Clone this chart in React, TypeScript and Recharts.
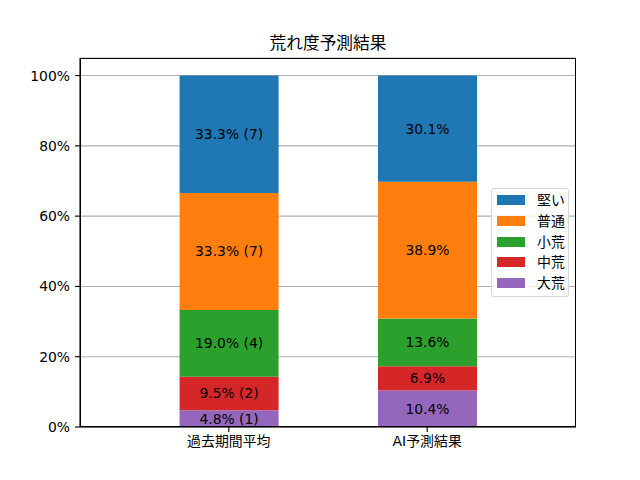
import React from 'react';
import { BarChart, Bar, XAxis, YAxis, CartesianGrid, LabelList, Legend } from 'recharts';

const categories = ['過去期間平均', 'AI予測結果'];
const seriesNames = ['大荒', '中荒', '小荒', '普通', '堅い'];
const seriesColors = ['#9467bd', '#d62728', '#2ca02c', '#ff7f0e', '#1f77b4'];
const oare = [4.8, 10.4];
const chuare = [9.5, 6.9];
const shoare = [19.0, 13.6];
const futsu = [33.3, 38.9];
const katai = [33.4, 30.2];
const pastCounts = [1, 2, 4, 7, 7];
const yTicks = [0, 20, 40, 60, 80, 100];

const seriesValues = [oare, chuare, shoare, futsu, katai];
const seriesLabels = [
  ['4.8% (1)', '10.4%'],
  ['9.5% (2)', '6.9%'],
  ['19.0% (4)', '13.6%'],
  ['33.3% (7)', '38.9%'],
  ['33.3% (7)', '30.1%'],
];

const data = categories.map((name, i) => {
  const row: Record<string, any> = { x: i, name };
  seriesNames.forEach((s, k) => {
    row['s' + k] = seriesValues[k][i];
    row['l' + k] = seriesLabels[k][i];
  });
  return row;
});

const FONT = '"DejaVu Sans", "Noto Sans CJK JP", sans-serif';
const TICK_FS = 13.9;

const LegendBox = () => (
  <div
    style={{
      position: 'relative',
      width: 78,
      height: 109,
      border: '1px solid #d6d6d6',
      borderRadius: 3,
      boxSizing: 'border-box',
      background: 'rgba(255,255,255,0.8)',
      fontFamily: FONT,
      fontSize: TICK_FS,
      color: '#000',
    }}
  >
    {[...seriesNames].reverse().map((s, i) => {
      const color = [...seriesColors].reverse()[i];
      const cy = 11 + 20.8 * i;
      return (
        <div key={s} style={{ position: 'absolute', left: 0, top: cy - 10, height: 20, width: 78 }}>
          <div style={{ position: 'absolute', left: 5, top: 5, width: 28, height: 10, background: color }} />
          <div style={{ position: 'absolute', left: 45, top: 0, lineHeight: '20px', whiteSpace: 'nowrap' }}>{s}</div>
        </div>
      );
    })}
  </div>
);

export default function App() {
  return (
    <div style={{ position: 'absolute', left: 0, top: 0, width: 640, height: 480, background: '#fff' }}>
      <div
        style={{
          position: 'absolute',
          left: 80,
          width: 496,
          top: 35,
          textAlign: 'center',
          fontFamily: FONT,
          fontSize: 16.7,
          lineHeight: '17px',
          color: '#000',
        }}
      >
        荒れ度予測結果
      </div>
      <BarChart
        width={640}
        height={480}
        data={data}
        margin={{ top: 58, right: 64, bottom: 0, left: 0 }}
        style={{ fontFamily: FONT }}
      >
        <CartesianGrid vertical={false} stroke="#b0b0b0" strokeWidth={1.1} />
        <XAxis
          dataKey="x"
          type="number"
          domain={[-0.75, 1.75]}
          ticks={[0, 1]}
          allowDataOverflow
          tickFormatter={(v: number) => categories[v]}
          height={53}
          tickSize={5}
          tickMargin={4}
          axisLine={{ stroke: '#000', strokeWidth: 1.1 }}
          tickLine={{ stroke: '#000', strokeWidth: 1.1 }}
          tick={{ fill: '#000', fontSize: TICK_FS, fontFamily: FONT }}
        />
        <YAxis
          type="number"
          domain={[0, 105]}
          ticks={yTicks}
          allowDataOverflow
          tickFormatter={(v: number) => `${v}%`}
          width={80}
          tickSize={5}
          tickMargin={5}
          axisLine={{ stroke: '#000', strokeWidth: 1.1 }}
          tickLine={{ stroke: '#000', strokeWidth: 1.1 }}
          tick={{ fill: '#000', fontSize: TICK_FS, fontFamily: FONT }}
        />
        <Legend
          layout="vertical"
          align="center"
          verticalAlign="middle"
          content={() => <LegendBox />}
          wrapperStyle={{ position: 'absolute', left: 491, top: 188, width: 78, height: 109 }}
        />
        {seriesNames.map((s, k) => (
          <Bar
            key={s}
            dataKey={'s' + k}
            name={s}
            stackId="a"
            fill={seriesColors[k]}
            barSize={99}
            isAnimationActive={false}
          >
            <LabelList dataKey={'l' + k} position="center" fill="#000" fontSize={TICK_FS} fontFamily={FONT} />
          </Bar>
        ))}
      </BarChart>
      <div
        style={{
          position: 'absolute',
          left: 80,
          top: 58,
          width: 496,
          height: 369,
          border: '1.1px solid #000',
          boxSizing: 'border-box',
          pointerEvents: 'none',
          marginLeft: -0.5,
          marginTop: -0.5,
        }}
      />
    </div>
  );
}
